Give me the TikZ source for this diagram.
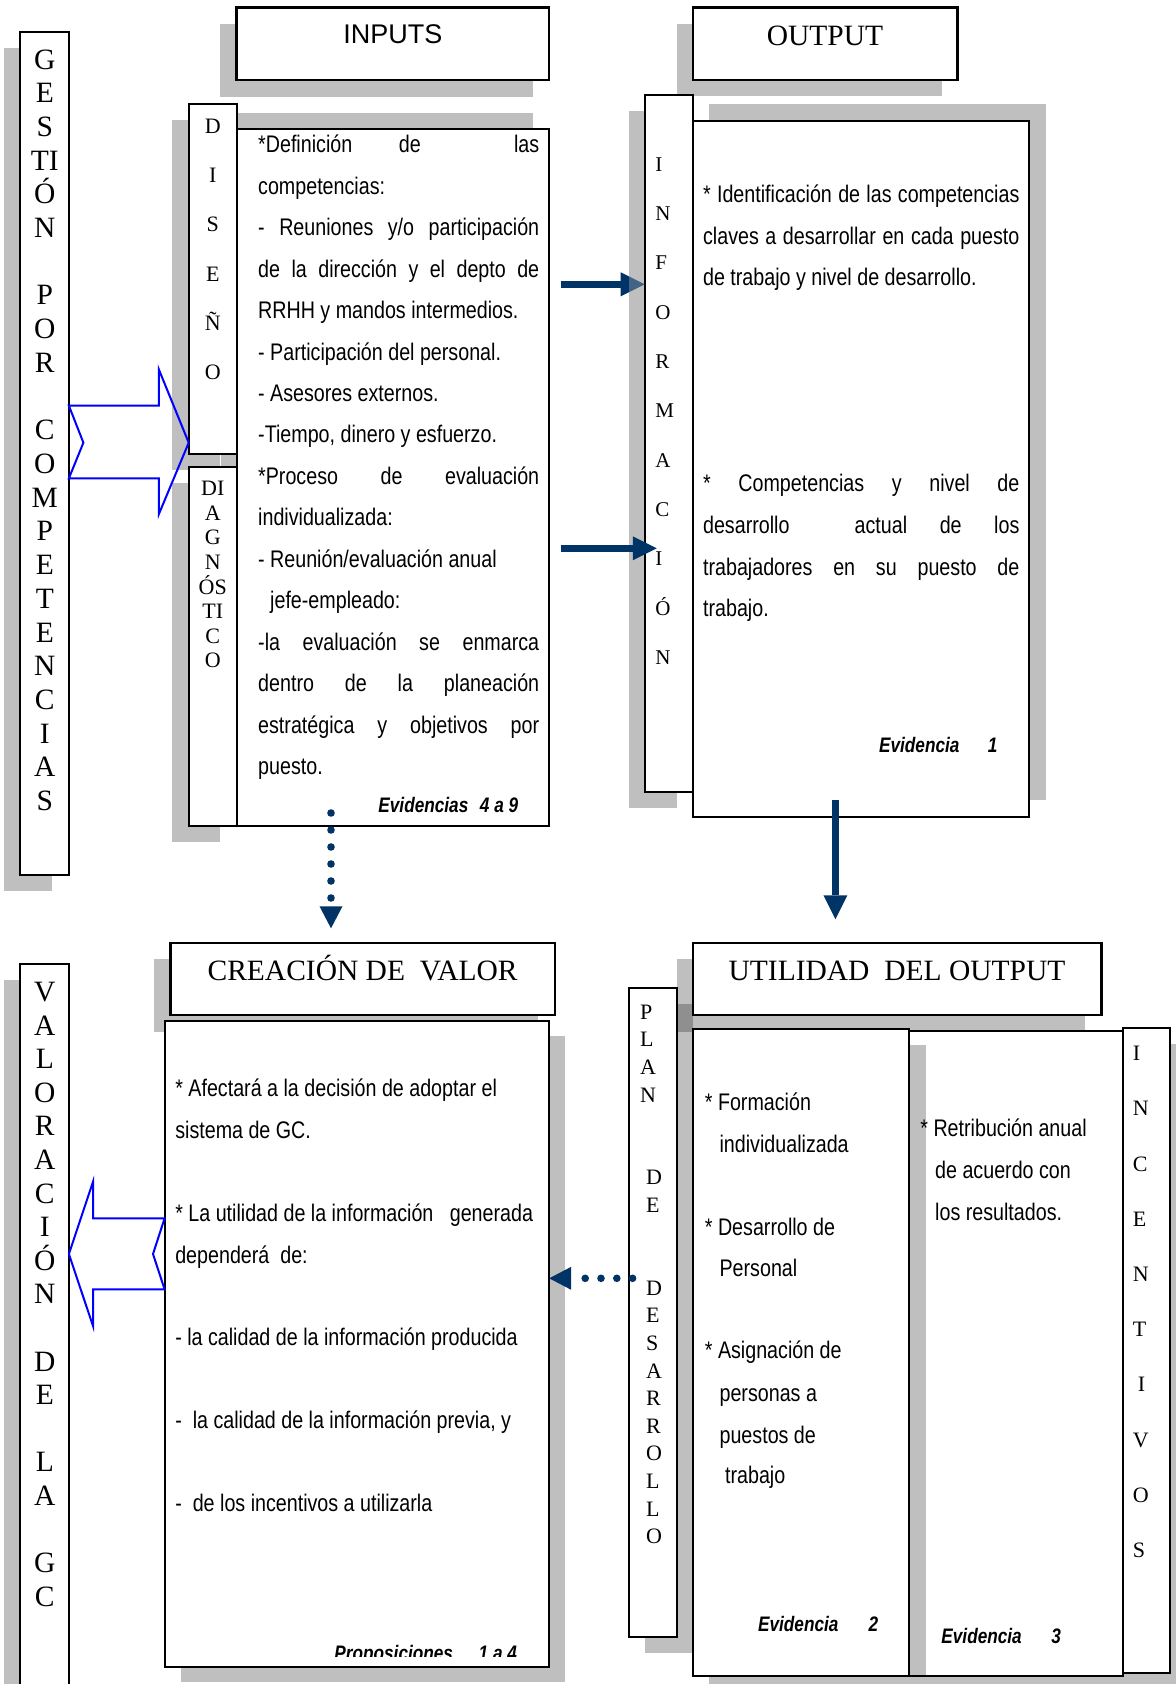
\documentclass[tikz,border=0pt]{standalone}
\usepackage{fontspec}
\setmainfont{Liberation Serif}
\newfontfamily\narfont[FakeStretch=0.82]{Liberation Sans}
\newfontfamily\arifont{Liberation Sans}
\usetikzlibrary{shadows,arrows.meta}
\definecolor{arrnavy}{RGB}{0,51,102}
\definecolor{hollowblue}{RGB}{0,0,255}
\definecolor{shadegray}{RGB}{191,191,191}
\newcommand\jst[2]{\makebox[#1][s]{#2}}
% name, x1, y1, x2, y2, shadow xshift, shadow yshift, extra style
\newcommand\dgbox[8]{%
  \node[boxst,#8,minimum width={(#4-#2)*0.5pt},minimum height={(#5-#3)*0.5pt},
    drop shadow={shadow xshift=#6,shadow yshift=#7,fill=black,opacity=0.25}]
    (#1) at ({(#2+#4)/2},{(#3+#5)/2}) {};}
\begin{document}
\begin{tikzpicture}[x=0.5pt,y=-0.5pt,
  boxst/.style={draw=black,fill=white,line width=1pt,inner sep=0pt,outer sep=0pt},
  ttlbox/.style={line width=1.2pt},
  body/.style={font=\narfont\fontsize{12}{14}\selectfont,inner sep=0pt,anchor=base west},
  evid/.style={font=\narfont\fontsize{10.5}{12}\selectfont\bfseries\itshape,inner sep=0pt},
  bigl/.style={font=\fontsize{14.75}{16}\selectfont,inner sep=0pt,anchor=base},
  smll/.style={font=\fontsize{11}{13}\selectfont,inner sep=0pt},
  infl/.style={font=\fontsize{10.5}{12}\selectfont,inner sep=0pt,anchor=base west},
  ttl/.style={font=\fontsize{14.75}{16}\selectfont,inner sep=0pt,anchor=base},
  hollow/.style={draw=hollowblue,line width=1pt,line join=miter},
  navyarr/.style={draw=arrnavy,line width=3.5pt,-{Triangle[length=12pt,width=12pt,line width=0pt]}},
  dotarr/.style={draw=arrnavy,line width=3.8pt,line cap=round,dash pattern=on 0pt off #1,
     -{Triangle[length=11pt,width=11.5pt,line width=0pt]}},
]
\useasboundingbox (0,0) rectangle (1175,1684);
\fill[white] (0,0) rectangle (1175,1684);

% ---------------- upper half ----------------
\dgbox{gest}{20.3}{32.3}{68.9}{875.3}{-8.25pt}{-8pt}{}
\dgbox{inputsT}{236.5}{7.7}{549.2}{80.3}{-8.25pt}{-8.15pt}{ttlbox}
\dgbox{inbox}{237.3}{129.3}{549.2}{826}{-8pt}{8pt}{}
\dgbox{diseno}{188.7}{104.3}{237.3}{454.3}{-8.5pt}{-8pt}{}
\dgbox{diag}{188.7}{466.7}{237.3}{826}{-8.5pt}{-8pt}{}
\dgbox{outputT}{692.8}{7.7}{957.5}{80.3}{-8pt}{-8pt}{ttlbox}
\dgbox{info}{644.7}{95}{692.8}{791.7}{-7.75pt}{-8pt}{}
\dgbox{outbox}{692.8}{120.7}{1029}{816.7}{8.25pt}{8.25pt}{}

% ---------------- lower half ----------------
\dgbox{creT}{170.3}{942.7}{554.9}{1015}{-8.25pt}{-8.25pt}{ttlbox}
\dgbox{valbox}{164.6}{1020.7}{549.2}{1666.7}{8pt}{-7.75pt}{}
\dgbox{valor}{20.3}{964.3}{68.9}{1720}{-8.25pt}{-8pt}{}
\dgbox{utilT}{692.8}{942.7}{1101.3}{1015}{-8pt}{-8.25pt}{ttlbox}
\dgbox{plan}{629.3}{988.3}{677}{1636.7}{8pt}{-8pt}{}
\dgbox{retr}{909.1}{1031}{1122.5}{1675.7}{8.25pt}{-8pt}{}
\dgbox{incent}{1122.5}{1028.3}{1170.2}{1672.7}{8pt}{-8pt}{}
\dgbox{form}{692.8}{1029.3}{909.1}{1675.7}{8.25pt}{-8pt}{}

% ---------------- titles ----------------
\node[font=\arifont\fontsize{13.5}{16}\selectfont,inner sep=0pt,anchor=base] (tin) at (392.8,43.3) {INPUTS};
\node[ttl] (tout) at (825,45.7) {OUTPUT};
\node[ttl] (tcre) at (362.6,980) {CREACIÓN DE\ \ VALOR};
\node[ttl] (tuti) at (897,980) {UTILIDAD\ \ DEL OUTPUT};

% ---------------- vertical letters ----------------
\foreach \ch/\yy [count=\i] in {G/59.3,E/93,S/126.7,TI/160.4,Ó/194.1,N/227.8,P/295.2,O/328.9,R/362.6,C/430,O/463.7,M/497.4,P/531.1,E/564.8,T/598.5,E/632.2,N/665.9,C/699.6,I/733.3,A/767,S/800.7}
  \node[bigl] (gl\i) at (44.8,{\yy+9.8}) {\ch};
\foreach \ch/\yy [count=\i] in {V/991.7,A/1025.3,L/1058.9,O/1092.5,R/1126.1,A/1159.7,C/1193.3,I/1226.9,Ó/1260.5,N/1294.1,D/1361.3,E/1394.9,L/1462.1,A/1495.7,G/1562.9,C/1596.5}
  \node[bigl] (vl\i) at (44.8,{\yy+9.8}) {\ch};
\foreach \ch/\yy [count=\i] in {D/126,I/175.3,S/224.6,E/273.9,Ñ/323.2,O/372.5}
  \node[smll,anchor=base] (dl\i) at (212.8,{\yy+7.3}) {\ch};
\foreach \ch/\yy [count=\i] in {DI/488.3,A/512.9,G/537.5,N/562.1,ÓS/586.7,TI/611.3,C/635.9,O/660.5}
  \node[smll,anchor=base] (gn\i) at (212.8,{\yy+7.3}) {\ch};
\foreach \ch/\yy [count=\i] in {I/164.3,N/213.6,F/262.9,O/312.2,R/361.5,M/410.8,A/460.1,C/509.4,I/558.7,Ó/608,N/657.3}
  \node[infl] (il\i) at (655,{\yy+7}) {\ch};
\foreach \ch/\xx/\yy [count=\i] in {P/639.6/1012,L/639.6/1039.6,A/639.6/1067.2,N/639.6/1094.8,D/645.8/1177.6,E/645.8/1205.2,D/645.8/1288,E/645.8/1315.6,S/645.8/1343.2,A/645.8/1370.8,R/645.8/1398.4,R/645.8/1426,O/645.8/1453.6,L/645.8/1481.2,L/645.8/1508.8,O/645.8/1536.4}
  \node[smll,anchor=base west] (pl\i) at (\xx,{\yy+7.3}) {\ch};
\foreach \ch/\xx/\yy [count=\i] in {I/1132.4/1053.3,N/1132.4/1108.5,C/1132.4/1163.7,E/1132.4/1218.9,N/1132.4/1274.1,T/1132.4/1329.3,I/1137.5/1384.5,V/1132.4/1439.7,O/1132.4/1494.9,S/1132.4/1550.1}
  \node[smll,anchor=base west] (nl\i) at (\xx,{\yy+7.3}) {\ch};

% ---------------- inputs text ----------------
\node[body] (i1) at (257.8,152.8) {\makebox[140.5pt]{*Definición\hfill de\hfill\hfill las}};
\node[body] (i2) at (257.8,194.25) {competencias:};
\node[body] (i3) at (257.8,235.7) {\jst{140.5pt}{- Reuniones y/o participación}};
\node[body] (i4) at (257.8,277.15) {\jst{140.5pt}{de la dirección y el depto de}};
\node[body] (i5) at (257.8,318.6) {RRHH y mandos intermedios.};
\node[body] (i6) at (257.8,360.05) {- Participación del personal.};
\node[body] (i7) at (257.8,401.5) {- Asesores externos.};
\node[body] (i8) at (257.8,442.95) {-Tiempo, dinero y esfuerzo.};
\node[body] (i9) at (257.8,484.4) {\jst{140.5pt}{*Proceso de evaluación}};
\node[body] (i10) at (257.8,525.85) {individualizada:};
\node[body] (i11) at (257.8,567.3) {- Reunión/evaluación anual};
\node[body] (i12) at (269.8,608.75) {jefe-empleado:};
\node[body] (i13) at (257.8,650.2) {\jst{140.5pt}{-la evaluación se enmarca}};
\node[body] (i14) at (257.8,691.65) {\jst{140.5pt}{dentro de la planeación}};
\node[body] (i15) at (257.8,733.1) {\jst{140.5pt}{estratégica y objetivos por}};
\node[body] (i16) at (257.8,774.55) {puesto.};
\node[evid,anchor=base west] (ev9a) at (378,812.3) {Evidencias};
\node[evid,anchor=base east] (ev9b) at (518.6,812.3) {4 a 9};

% ---------------- output text ----------------
\node[body] (o1) at (702.7,202.6) {\jst{158.15pt}{* Identificación de las competencias}};
\node[body] (o2) at (702.7,244.3) {\jst{158.15pt}{claves a desarrollar en cada puesto}};
\node[body] (o3) at (702.7,286) {de trabajo y nivel de desarrollo.};
\node[body] (o4) at (702.7,491.6) {\jst{158.15pt}{* Competencias y nivel de}};
\node[body] (o5) at (702.7,533.3) {\makebox[158.15pt]{desarrollo\hfill\hfill actual\hfill de\hfill los}};
\node[body] (o6) at (702.7,575) {\jst{158.15pt}{trabajadores en su puesto de}};
\node[body] (o7) at (702.7,616.6) {trabajo.};
\node[evid,anchor=base west] (ev1a) at (878.7,752.3) {Evidencia};
\node[evid,anchor=base east] (ev1b) at (997.9,752.3) {1};

% ---------------- valor text ----------------
\node[body] (v1) at (174.9,1096.6) {* Afectará a la decisión de adoptar el};
\node[body] (v2) at (174.9,1138.3) {sistema de GC.};
\node[body] (v3) at (174.9,1221.6) {* La utilidad de la información\ \ \ generada};
\node[body] (v4) at (174.9,1263.3) {dependerá\ \ de:};
\node[body] (v5) at (174.9,1345) {- la calidad de la información producida};
\node[body] (v6) at (174.9,1428.3) {-\ \ la calidad de la información previa, y};
\node[body] (v7) at (174.9,1511.6) {-\ \ de los incentivos a utilizarla};
\begin{scope}
  \clip (164.6,1020.7) rectangle (549.2,1656.7);
  \node[evid,anchor=base west] (pr1) at (334,1660) {Proposiciones};
  \node[evid,anchor=base east] (pr2) at (517.4,1660) {1 a 4};
\end{scope}

% ---------------- utilidad text ----------------
\node[body] (f1) at (704.5,1110) {* Formación};
\node[body] (f2) at (719.2,1152.3) {individualizada};
\node[body] (f3) at (704.5,1235.6) {* Desarrollo de};
\node[body] (f4) at (719.2,1276.6) {Personal};
\node[body] (f5) at (704.5,1358.3) {* Asignación de};
\node[body] (f6) at (719.2,1401.6) {personas a};
\node[body] (f7) at (719.2,1443.3) {puestos de};
\node[body] (f8) at (724.7,1483.3) {trabajo};
\node[evid,anchor=base west] (ev2a) at (757.7,1631.7) {Evidencia};
\node[evid,anchor=base east] (ev2b) at (878.7,1631.7) {2};

\node[body] (r1) at (920,1136.6) {* Retribución anual};
\node[body] (r2) at (934.8,1178.3) {de acuerdo con};
\node[body] (r3) at (934.8,1220) {los resultados.};
\node[evid,anchor=base west] (ev3a) at (941,1643.3) {Evidencia};
\node[evid,anchor=base east] (ev3b) at (1061.3,1643.3) {3};

% ---------------- hollow blue arrows ----------------
\draw[hollow] (68.9,405.7) -- (158.8,405.7) -- (158.8,369.3) -- (188.7,442.7) -- (158.8,514.3)
  -- (158.8,478.3) -- (68.9,478.3) -- (83.4,442.7) -- cycle;
\draw[hollow] (164.6,1218.3) -- (93,1218.3) -- (93,1181.7) -- (68.9,1254) -- (93,1326)
  -- (93,1289.3) -- (164.6,1289.3) -- (153,1254) -- cycle;

% ---------------- navy arrows ----------------
\coordinate (a1s) at (560.6,284.3);
\draw[navyarr] (a1s) -- (info.west |- a1s);
% the shadow of the INFORMACION box lies over the head of the first arrow
\fill[shadegray,opacity=0.35] (629.2,268) rectangle (644.2,300);
\coordinate (a2s) at (560.6,548.3);
\coordinate (a2e) at (656.8,548.3);
\draw[navyarr] (a2s) -- (a2e);
\coordinate (d1s) at (835.4,800);
\coordinate (d1e) at (835.4,919.3);
\draw[navyarr] (d1s) -- (d1e);
\coordinate (d2s) at (331,813);
\coordinate (d2e) at (331,928.3);
\draw[dotarr=8.5pt] (d2s) -- (d2e);
\coordinate (d3s) at (632.6,1278.3);
\draw[dotarr=7.9pt] (d3s) -- (valbox.east |- d3s);
\end{tikzpicture}
\end{document}
